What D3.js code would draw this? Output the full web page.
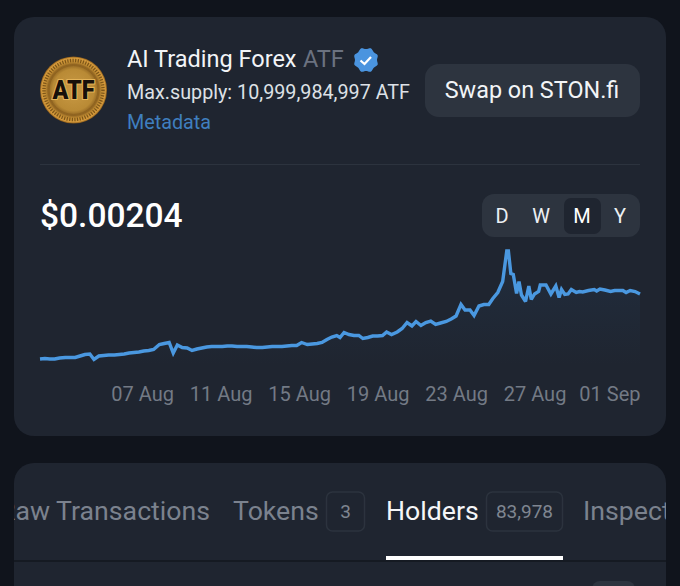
<!DOCTYPE html>
<html><head><meta charset="utf-8">
<script src="https://cdn.jsdelivr.net/npm/d3@7"></script>
<style>html,body{margin:0;padding:0;background:#10141c}svg{display:block}text{font-family:Roboto,sans-serif}</style>
</head><body><div id="c"></div>
<script>
const startDate = "2024-08-01T19:00:00Z";
const hoursFromStart = [0,6,12,18,24,31,37,43,49,55,61,66,72,78,84,91,97,103,109,115,121,127,133,139,146,152,158,163,168,174,180,186,192,198,204,210,216,223,229,235,241,247,253,259,265,272,278,284,290,296,302,308,314,320,327,333,339,345,351,357,363,367,372,378,384,390,395,401,407,413,419,424,430,437,443,449,455,460,466,472,478,484,490,497,503,509,515,520,526,531,537,543,549,554,560,566,571,573,576,579,583,586,589,594,598,601,605,610,612,619,625,631,635,638,642,646,650,656,660,664,671,678,681,685,691,698,703,713,717,722,728,734];
const prices = [74,75,74,74,76,77,77,77,80,83,84,73,80,81,82,82,83,84,86,87,88,90,91,93,103,105,107,86,102,97,96,91,94,96,98,99,99,99,100,100,99,99,99,98,97,97,98,99,99,99,100,101,101,107,103,104,105,107,113,118,121,117,127,123,121,121,115,117,120,120,121,128,123,128,135,147,140,149,141,147,150,143,146,149,154,160,183,172,172,161,180,183,183,195,207,229,290,290,245,243,205,229,202,189,220,193,204,209,222,222,204,220,197,213,203,204,213,207,209,208,211,213,210,214,212,209,211,211,207,211,209,204].map(v => v / 100000);
const tickDates = ["2024-08-07","2024-08-11","2024-08-15","2024-08-19","2024-08-23","2024-08-27","2024-09-01"];
const tickLabels = ["07 Aug","11 Aug","15 Aug","19 Aug","23 Aug","27 Aug","01 Sep"];
const periods = ["D","W","M","Y"];
const activePeriod = "M";

const W=680,H=586;
const svg=d3.select("#c").append("svg").attr("width",W).attr("height",H);
const defs=svg.append("defs");
svg.append("rect").attr("width",W).attr("height",H).attr("fill","#10141c");
const CARD="#1f2530",CHIP="#2d343f";
const card=(x,y,w,h,r,f)=>svg.append("rect").attr("x",x).attr("y",y).attr("width",w).attr("height",h).attr("rx",r).attr("fill",f);
const txt=(x,y,s,size,fill,anchor,weight)=>svg.append("text").attr("x",x).attr("y",y).text(s).attr("font-size",size).attr("fill",fill).attr("text-anchor",anchor||"start").attr("font-weight",weight||400);

card(14,17,652,419,20,CARD);
card(14,463,652,160,20,CARD);

// logo
const g1=defs.append("radialGradient").attr("id","gold");
[[0,"#c99a45"],[.62,"#b98a35"],[.76,"#8f6320"],[.84,"#c48f35"],[.95,"#d59a3c"],[1,"#8a5a18"]].forEach(s=>g1.append("stop").attr("offset",s[0]).attr("stop-color",s[1]));
svg.append("circle").attr("cx",73.5).attr("cy",90).attr("r",33.5).attr("fill","url(#gold)");
svg.append("circle").attr("cx",73.5).attr("cy",90).attr("r",29.5).attr("fill","none").attr("stroke","#7d5518").attr("stroke-width",3.5).attr("stroke-dasharray","1.2 1.4");
svg.append("circle").attr("cx",73.5).attr("cy",90).attr("r",24.5).attr("fill","none").attr("stroke","#8f6320").attr("stroke-width",1);
txt(73.5,98.5,"ATF",25,"#e4b358","middle",900).attr("stroke","#e4b358").attr("stroke-width",2.2).attr("textLength",42).attr("lengthAdjust","spacingAndGlyphs");
txt(73.5,98.5,"ATF",25,"#17100a","middle",900).attr("textLength",42).attr("lengthAdjust","spacingAndGlyphs");

// header
txt(127,67,"AI Trading Forex",23.5,"#f2f4f7");
txt(303,67,"ATF",23.5,"#6b7280");
const badgeR=d3.range(16).map(i=>{const a=i*Math.PI/8,r=i%2?12.6:11;return [366+r*Math.cos(a),60+r*Math.sin(a)]});
svg.append("path").attr("d",d3.line().curve(d3.curveCardinalClosed)(badgeR)).attr("fill","#4a94df");
svg.append("path").attr("d","M360.5 60.5l4 3.5l6.5-7").attr("fill","none").attr("stroke","#fff").attr("stroke-width",2.2);
txt(127,99,"Max.supply: 10,999,984,997 ATF",20.5,"#dde1e6").attr("textLength",283).attr("lengthAdjust","spacingAndGlyphs");
txt(127,129,"Metadata",20.5,"#3f7fbf").attr("textLength",84).attr("lengthAdjust","spacingAndGlyphs");
card(425,64,215,53,14,CHIP);
txt(532,98,"Swap on STON.fi",23.4,"#f2f4f7","middle");
svg.append("rect").attr("x",40).attr("y",164).attr("width",600).attr("height",1).attr("fill","#2c333e");

// price & periods
txt(40,227,"$0.00204",33.5,"#ffffff","start",500);
card(482,194,158,43,12,CHIP);
card(564,198,37,36,7,"#1f2530");
const px=d3.scaleOrdinal().domain(periods).range([502,541,582,620]);
svg.selectAll(".p").data(periods).join("text").attr("class","p").attr("x",d=>px(d)).attr("y",223).attr("text-anchor","middle").attr("font-size",20).attr("fill",d=>d===activePeriod?"#fff":"#eceff3").text(d=>d);

// chart
const t0=new Date(startDate);
const dates=hoursFromStart.map(h=>d3.utcHour.offset(t0,h));
const data=dates.map((d,i)=>({d,v:prices[i]}));
const x=d3.scaleUtc().domain([t0,dates[dates.length-1]]).range([40,640]);
const y=d3.scaleLinear().domain([0.00074,0.0029]).range([359,251]);
const ag=defs.append("linearGradient").attr("id","fade").attr("gradientUnits","userSpaceOnUse").attr("x1",0).attr("x2",0).attr("y1",251).attr("y2",365);
ag.append("stop").attr("offset",0).attr("stop-color","#2f5f96").attr("stop-opacity",.14);
ag.append("stop").attr("offset",1).attr("stop-color","#2f5f96").attr("stop-opacity",0);
svg.append("path").datum(data).attr("fill","url(#fade)").attr("d",d3.area().x(d=>x(d.d)).y0(365).y1(d=>y(d.v)));
svg.append("path").datum(data).attr("fill","none").attr("stroke","#4a98e0").attr("stroke-width",3.4).attr("stroke-linejoin","miter").attr("stroke-miterlimit",2.5).attr("d",d3.line().x(d=>x(d.d)).y(d=>y(d.v)));

// axis
const tickVals=tickDates.map(s=>new Date(s+"T00:00:00Z"));
const axis=d3.axisBottom(x).tickValues(tickVals).tickSize(0).tickFormat((d,i)=>tickLabels[i]);
const ax=svg.append("g").attr("transform","translate(0,382)").call(axis);
ax.select(".domain").remove();
ax.selectAll("text").attr("font-size",20).attr("fill","#737a85").attr("dy",0).attr("y",19).style("font-family","Roboto,sans-serif");
ax.selectAll("g.tick").filter((d,i)=>i===tickVals.length-1).select("text").attr("text-anchor","end").attr("transform",d=>`translate(${640-x(d)},0)`);

// tabs
defs.append("clipPath").attr("id","tabs").append("rect").attr("x",14).attr("y",463).attr("width",652).attr("height",123);
const tg=svg.append("g").attr("clip-path","url(#tabs)");
const tt=(xx,s,f,size)=>tg.append("text").attr("x",xx).attr("y",520).text(s).attr("font-size",size||26.7).attr("fill",f);
tt(-1,"Raw Transactions","#7b828e");
tt(233,"Tokens","#7b828e");
tt(386,"Holders","#f5f6f8");
tt(583,"Inspector","#7b828e");
const chip=(xx,w,s)=>{tg.append("rect").attr("x",xx).attr("y",492).attr("width",w).attr("height",39).attr("rx",6).attr("fill","none").attr("stroke","#2c333e").attr("stroke-width",1.5);
 tg.append("text").attr("x",xx+w/2).attr("y",518).attr("text-anchor","middle").attr("font-size",19).attr("fill","#7f8691").text(s);};
chip(326.5,38,"3");
chip(486.5,76,"83,978");
svg.append("rect").attr("x",14).attr("y",560).attr("width",652).attr("height",2).attr("fill","#151a22");
svg.append("rect").attr("x",386).attr("y",556).attr("width",177).attr("height",4).attr("fill","#ffffff");
card(592,581,43,20,8,CHIP);
</script></body></html>
